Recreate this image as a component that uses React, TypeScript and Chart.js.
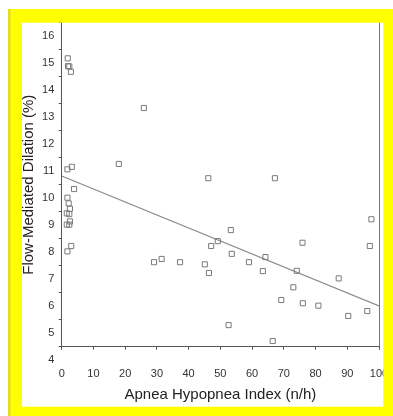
import React, { useEffect, useRef } from "react";
import { Chart, registerables } from "chart.js";

Chart.register(...registerables);

const ahiValues = [
  1.9, 2.0, 2.4, 2.9, 1.8, 3.2, 3.9, 1.8, 2.2, 2.6, 1.6, 2.4, 2.6, 1.6, 2.4, 1.8, 3.0,
  25.9, 18.0, 46.2, 67.2, 53.3, 49.2, 47.1, 53.6, 29.1, 31.5, 37.3, 45.1, 46.4, 59.0,
  63.4, 64.2, 52.6, 97.6, 97.1, 75.9, 74.1, 87.3, 73.0, 69.2, 76.0, 80.9, 90.3, 96.3, 66.5,
];
const fmdValues = [
  14.68, 14.39, 14.38, 14.18, 10.57, 10.66, 9.84, 9.52, 9.31, 9.11, 8.94, 8.91, 8.64, 8.52, 8.52, 7.53, 7.73,
  12.84, 10.77, 10.24, 10.24, 8.32, 7.91, 7.73, 7.44, 7.13, 7.25, 7.13, 7.05, 6.73, 7.13,
  6.8, 7.32, 4.8, 8.72, 7.73, 7.85, 6.81, 6.53, 6.2, 5.73, 5.61, 5.52, 5.14, 5.32, 4.21,
];
const trendX = [0, 100];
const trendY = [10.32, 5.51];

const xTitle = "Apnea Hypopnea Index (n/h)";
const yTitle = "Flow-Mediated Dilation (%)";

export default function App() {
  const ref = useRef<HTMLCanvasElement | null>(null);

  useEffect(() => {
    const canvas = ref.current;
    if (!canvas) return;

    const framePlugin = {
      id: "frame",
      afterDatasetsDraw(chart: any) {
        const { ctx, chartArea } = chart;
        ctx.save();
        ctx.strokeStyle = "#777777";
        ctx.lineWidth = 1;
        ctx.beginPath();
        ctx.moveTo(chartArea.right + 0.5, chartArea.top);
        ctx.lineTo(chartArea.right + 0.5, chartArea.bottom);
        ctx.stroke();
        ctx.restore();
      },
      afterDraw(chart: any) {
        const ctx = chart.ctx;
        ctx.save();
        ctx.fillStyle = "#FFFF00";
        ctx.fillRect(8, 9, 385, 13.7);
        ctx.fillRect(8, 9, 14, 407);
        ctx.fillRect(383.3, 9, 10, 407);
        ctx.fillRect(8, 406.7, 385, 10);
        ctx.fillStyle = "#E4DA2A";
        ctx.fillRect(8, 9, 2.5, 407);
        ctx.restore();
      },
    };

    const chart = new Chart(canvas, {
      type: "scatter",
      data: {
        datasets: [
          {
            type: "scatter",
            data: ahiValues.map((x, i) => ({ x, y: fmdValues[i] })),
            pointStyle: "rect",
            pointRadius: 3.6,
            borderColor: "#7a7a7a",
            backgroundColor: "rgba(255,255,255,0)",
            borderWidth: 1,
          },
          {
            type: "line",
            data: trendX.map((x, i) => ({ x, y: trendY[i] })),
            borderColor: "#8a8a8a",
            borderWidth: 1.2,
            pointRadius: 0,
            fill: false,
          } as any,
        ],
      },
      options: {
        responsive: false,
        animation: false,
        devicePixelRatio: 1,
        layout: { padding: { left: 10, right: 14, top: 22.7, bottom: 0 } },
        plugins: { legend: { display: false }, tooltip: { enabled: false } },
        scales: {
          x: {
            type: "linear",
            min: 0,
            max: 100,
            afterFit(scale: any) {
              scale.height = 69.3;
              scale.paddingRight = 0;
              scale.paddingLeft = 0;
            },
            ticks: {
              stepSize: 10,
              padding: 17.4,
              color: "#333333",
              font: { family: "Liberation Sans", size: 11 },
              maxRotation: 0,
              autoSkip: false,
            },
            grid: {
              drawOnChartArea: false,
              drawTicks: true,
              tickLength: 3,
              color: "#555555",
            },
            border: { display: true, color: "#555555", width: 1 },
            title: {
              display: true,
              text: xTitle,
              color: "#222222",
              font: { family: "Liberation Sans", size: 15 },
              padding: { top: 0, bottom: 12 },
            },
          },
          y: {
            type: "linear",
            min: 4,
            max: 16,
            afterFit(scale: any) {
              scale.width = 51.7;
            },
            ticks: {
              stepSize: 1,
              padding: 4.4,
              labelOffset: 13.3,
              color: "#333333",
              font: { family: "Liberation Sans", size: 11 },
              autoSkip: false,
            },
            grid: {
              drawOnChartArea: false,
              drawTicks: true,
              tickLength: 3,
              color: "#555555",
            },
            border: { display: true, color: "#555555", width: 1 },
            title: {
              display: true,
              text: yTitle,
              color: "#222222",
              font: { family: "Liberation Sans", size: 15 },
              padding: { top: 9.5, bottom: 0 },
            },
          },
        },
      },
      plugins: [framePlugin],
    } as any);

    return () => chart.destroy();
  }, []);

  return (
    <div style={{ position: "fixed", left: 0, top: 0, width: 393, height: 416 }}>
      <canvas ref={ref} width={393} height={416} style={{ display: "block", width: 393, height: 416 }} />
    </div>
  );
}
